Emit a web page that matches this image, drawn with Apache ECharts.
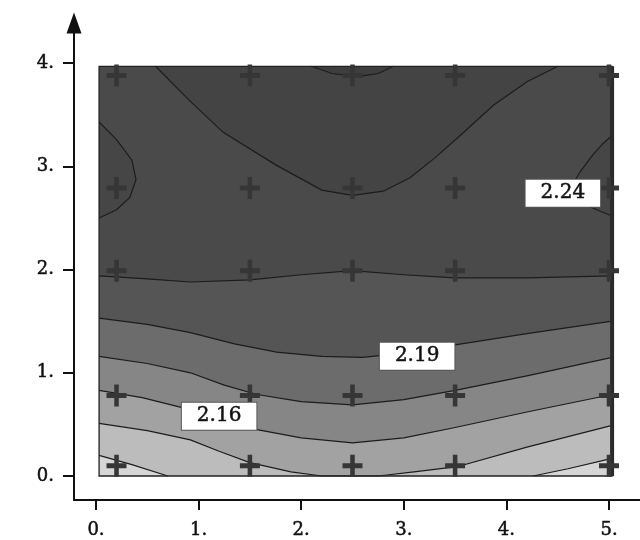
<!DOCTYPE html>
<html><head><meta charset="utf-8">
<script src="https://cdn.jsdelivr.net/npm/echarts@6/dist/echarts.min.js"></script>
<style>html,body{margin:0;padding:0;background:#fff}#c{width:640px;height:540px}</style>
</head><body><div id="c"></div>
<script>
// ---- data ----
const xTicks = [0, 1, 2, 3, 4, 5];
const yTicks = [0, 1, 2, 3, 4];
const plotX = [0.03, 5.03];
const plotY = [0, 3.97];

const markerXs = [0.2, 1.5, 2.5, 3.5, 5.0];
const markerYs = [0.1, 0.78, 1.99, 2.79, 3.88];

// contour paths (data coordinates)
const line5a = [[0.03, 0.2], [0.35, 0.11], [0.7, 0]];
const line5b = [[4.26, 0], [4.6, 0.07], [5.03, 0.17]];
const line4 = [[0.03, 0.51], [0.5, 0.44], [0.92, 0.35], [1.2, 0.24], [1.5, 0.13], [1.9, 0.04], [2.2, 0], [2.75, 0], [3.1, 0.04], [3.52, 0.09], [4.2, 0.28], [5.03, 0.49]];
const line3 = [[0.03, 0.83], [0.45, 0.76], [0.85, 0.66], [1.2, 0.56], [1.57, 0.45], [2.0, 0.37], [2.5, 0.32], [3.0, 0.37], [3.5, 0.47], [4.2, 0.62], [5.03, 0.79]];
const line2 = [[0.03, 1.16], [0.5, 1.09], [0.92, 1.0], [1.25, 0.88], [1.57, 0.79], [2.0, 0.72], [2.5, 0.69], [3.0, 0.74], [3.5, 0.83], [4.2, 0.97], [5.03, 1.15]];
const line1 = [[0.03, 1.53], [0.5, 1.47], [0.92, 1.39], [1.35, 1.28], [1.76, 1.2], [2.2, 1.16], [2.6, 1.15], [3.0, 1.19], [3.5, 1.27], [4.2, 1.38], [5.03, 1.5]];
const lineM = [[0.03, 1.94], [0.5, 1.91], [0.92, 1.88], [1.5, 1.9], [2.0, 1.95], [2.5, 1.99], [3.0, 1.95], [3.5, 1.92], [4.2, 1.92], [5.03, 1.94]];
const lineU1 = [[0.58, 3.97], [0.9, 3.65], [1.24, 3.33], [1.76, 3.01], [2.2, 2.77], [2.5, 2.72], [2.8, 2.76], [3.06, 2.89], [3.3, 3.08], [3.55, 3.3], [3.87, 3.59], [4.2, 3.82], [4.5, 3.97]];
const lineU2 = [[2.1, 3.97], [2.3, 3.9], [2.55, 3.87], [2.75, 3.9], [2.9, 3.97]];
const lineU3 = [[0.03, 3.43], [0.2, 3.26], [0.35, 3.06], [0.39, 2.87], [0.33, 2.7], [0.2, 2.58], [0.03, 2.5]];
const lineU4 = [[5.03, 3.3], [4.94, 3.22], [4.84, 3.11], [4.72, 2.95], [4.62, 2.78], [4.7, 2.66], [4.88, 2.58], [5.03, 2.52]];

const labelText = ['2.24', '2.19', '2.16'];
const labelX = [4.55, 3.13, 1.2];
const labelY = [2.74, 1.16, 0.58];

// ---- build ----
const BL = [plotX[0], plotY[0]], BR = [plotX[1], plotY[0]];
const TL = [plotX[0], plotY[1]], TR = [plotX[1], plotY[1]];
const bands = [
  { pts: [BL, BR, TR, TL], color: '#4a4a4a' },
  { pts: lineU1, color: '#444444' },
  { pts: lineU2, color: '#3e3e3e' },
  { pts: lineU3, color: '#464646' },
  { pts: lineU4, color: '#464646' },
  { pts: lineM.concat([BR, BL]), color: '#555555' },
  { pts: line1.concat([BR, BL]), color: '#6c6c6c' },
  { pts: line2.concat([BR, BL]), color: '#868686' },
  { pts: line3.concat([BR, BL]), color: '#a2a2a2' },
  { pts: line4.concat([BR, BL]), color: '#bcbcbc' },
  { pts: line5a.concat([BL]), color: '#d6d6d6' },
  { pts: line5b.concat([BR]), color: '#d6d6d6' }
];
const contourLines = [lineM, line1, line2, line3, line4, line5a, line5b, lineU1, lineU2, lineU3, lineU4];

const markers = [];
markerYs.forEach(y => markerXs.forEach(x => markers.push([x, y])));
const labels = labelText.map((t, i) => ({ name: t, value: [labelX[i], labelY[i]] }));

const serif = 'DejaVu Serif';
const chart = echarts.init(document.getElementById('c'), null, { renderer: 'canvas' });
chart.setOption({
  animation: false,
  backgroundColor: '#ffffff',
  grid: { left: 74, right: 0, top: 23, bottom: 40, containLabel: false },
  xAxis: {
    type: 'value', min: -0.2144, max: 5.302,
    splitLine: { show: false },
    axisLine: { show: true, onZero: false, lineStyle: { color: '#111', width: 2 } },
    axisTick: { show: true, length: 10, customValues: xTicks, lineStyle: { color: '#111', width: 2 } },
    axisLabel: { customValues: xTicks, formatter: v => v + '.', fontFamily: serif, fontSize: 18, color: '#111', textBorderColor: '#111', textBorderWidth: 0.5, margin: 21 }
  },
  yAxis: {
    type: 'value', min: -0.2326, max: 4.3895,
    splitLine: { show: false },
    axisLine: { show: true, onZero: false, symbol: ['none', 'triangle'], symbolSize: [15, 21], lineStyle: { color: '#111', width: 2 } },
    axisTick: { show: true, length: 11, customValues: yTicks, lineStyle: { color: '#111', width: 2 } },
    axisLabel: { customValues: yTicks, formatter: v => v + '.', fontFamily: serif, fontSize: 18, color: '#111', textBorderColor: '#111', textBorderWidth: 0.5, margin: 20 }
  },
  series: [
    {
      type: 'custom', coordinateSystem: 'cartesian2d', silent: true, z: 1,
      data: bands.map(() => [0, 0]),
      renderItem: (params, api) => {
        const b = bands[params.dataIndex];
        return { type: 'polygon', shape: { points: b.pts.map(p => api.coord(p)) }, style: { fill: b.color } };
      }
    },
    {
      type: 'custom', coordinateSystem: 'cartesian2d', silent: true, z: 2,
      data: contourLines.map(() => [0, 0]),
      renderItem: (params, api) => {
        const l = contourLines[params.dataIndex];
        return { type: 'polyline', shape: { points: l.map(p => api.coord(p)) }, style: { stroke: '#1c1c1c', lineWidth: 1.2, fill: null } };
      }
    },
    {
      type: 'custom', coordinateSystem: 'cartesian2d', silent: true, z: 3,
      data: [[0, 0]],
      renderItem: (params, api) => {
        const a = api.coord(BL), b = api.coord(TR);
        return {
          type: 'group', children: [
            { type: 'rect', shape: { x: a[0], y: b[1], width: b[0] - a[0], height: a[1] - b[1] }, style: { stroke: '#222', lineWidth: 1.3, fill: null } },
            { type: 'line', shape: { x1: b[0], y1: b[1], x2: b[0], y2: a[1] }, style: { stroke: '#2a2a2a', lineWidth: 4 } }
          ]
        };
      }
    },
    {
      type: 'scatter', z: 4, silent: true,
      data: markers,
      symbol: 'path://M8.5,0H13.5V8.5H22V13.5H13.5V22H8.5V13.5H0V8.5H8.5Z',
      symbolSize: [20, 22],
      itemStyle: { color: '#363636', opacity: 1 }
    },
    {
      type: 'scatter', z: 5, silent: true,
      data: labels,
      symbol: 'rect', symbolSize: 1,
      itemStyle: { color: 'rgba(0,0,0,0)', opacity: 1 },
      label: {
        show: true, position: 'inside', formatter: '{b}',
        fontFamily: serif, fontSize: 20, lineHeight: 20, color: '#111',
        textBorderColor: '#111', textBorderWidth: 0.5,
        backgroundColor: '#ffffff', borderColor: '#555', borderWidth: 1, padding: [4, 15, 3, 15]
      }
    }
  ]
});
</script>
</body></html>
